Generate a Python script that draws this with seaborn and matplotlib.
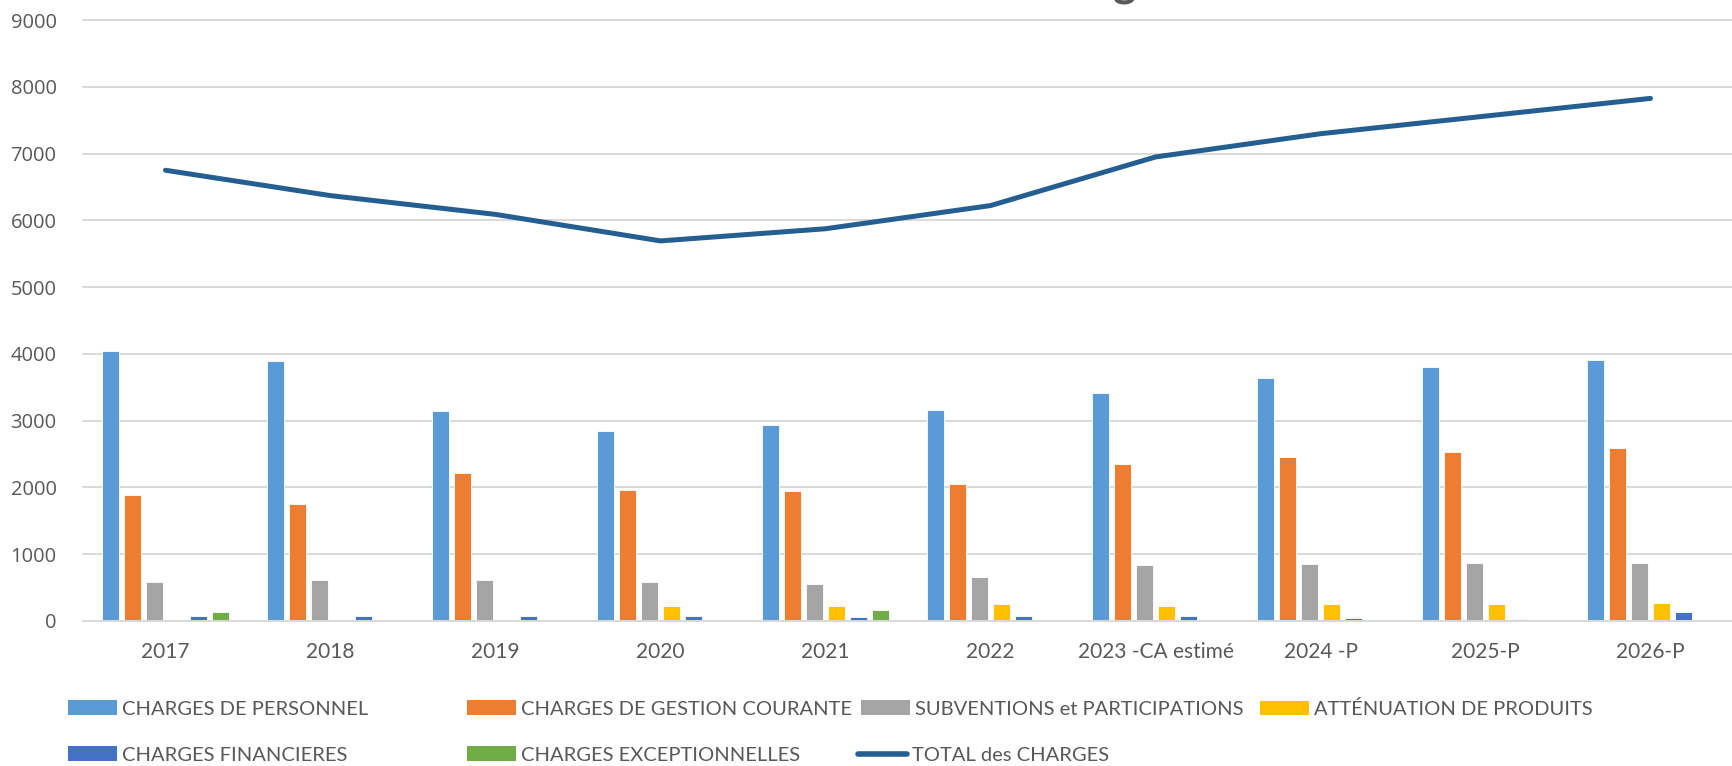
import numpy as np
import pandas as pd
import seaborn as sns
import matplotlib.pyplot as plt
from matplotlib.patches import Patch
from matplotlib.lines import Line2D

# valeurs (milliers d'euros)
annees = ["2017", "2018", "2019", "2020", "2021", "2022",
          "2023 -CA estimé", "2024 -P", "2025-P", "2026-P"]
personnel = [4040, 3895, 3150, 2850, 2935, 3155, 3415, 3635, 3800, 3915]
gestion = [1885, 1755, 2210, 1965, 1940, 2045, 2345, 2460, 2530, 2585]
subventions = [585, 612, 612, 582, 550, 665, 836, 852, 862, 872]
attenuation = [0, 0, 5, 228, 230, 255, 218, 252, 252, 267]
financieres = [72, 78, 72, 74, 58, 74, 72, 42, 28, 142]
exceptionnelles = [132, 10, 0, 0, 165, 0, 10, 5, 5, 5]
total = [6750, 6370, 6089, 5692, 5874, 6221, 6949, 7297, 7561, 7826]

series = ["CHARGES DE PERSONNEL", "CHARGES DE GESTION COURANTE",
          "SUBVENTIONS et PARTICIPATIONS", "ATTÉNUATION DE PRODUITS",
          "CHARGES FINANCIERES", "CHARGES EXCEPTIONNELLES"]
couleurs = ["#5B9BD5", "#ED7D31", "#A5A5A5", "#FFC000", "#4472C4", "#70AD47"]
valeurs = [personnel, gestion, subventions, attenuation, financieres, exceptionnelles]

rows = []
for nom, vals in zip(series, valeurs):
    for a, v in zip(annees, vals):
        rows.append({"annee": a, "serie": nom, "valeur": v})
df = pd.DataFrame(rows)

sns.set_theme(style="white")
plt.rcParams["font.family"] = ["Lato", "DejaVu Sans"]

fig = plt.figure(figsize=(17.33, 7.66), dpi=100)
ax = fig.add_axes([83 / 1733, 1 - 621 / 766, 1 - 83 / 1733, (621 - 20) / 766])

sns.barplot(data=df, x="annee", y="valeur", hue="serie", order=annees,
            hue_order=series, palette=couleurs, width=0.8, gap=0.2,
            edgecolor="white", linewidth=0.6, saturation=1, ax=ax, legend=False)

sns.lineplot(x=np.arange(len(annees)), y=total, color="#255E91", linewidth=3.6,
             solid_capstyle="round", ax=ax)

ax.set_xlim(-0.5, len(annees) - 0.5)
ax.set_ylim(0, 9000)
ax.set_yticks(np.arange(0, 9001, 1000))
ax.set_xlabel("")
ax.set_ylabel("")
ax.yaxis.grid(True, color="#D9D9D9", linewidth=1.4, clip_on=False)
ax.set_axisbelow(True)
for s in ["top", "right", "left"]:
    ax.spines[s].set_visible(False)
ax.spines["bottom"].set_color("#D9D9D9")
ax.spines["bottom"].set_linewidth(1.4)
ax.tick_params(axis="x", length=0, pad=15, labelsize=15, labelcolor="#595959")
ax.tick_params(axis="y", length=0, pad=19, labelsize=14.5, labelcolor="#595959")
for t in ax.get_yticklabels():
    t.set_fontfamily(["Open Sans", "DejaVu Sans"])

# titre coupé en haut de l'image
fig.text(1125 / 1733, 1 + 3 / 766, "g", ha="center", va="baseline",
         fontsize=32, fontweight="bold", color="#595959")

# légende, placée entrée par entrée comme dans Excel
handles = [Patch(facecolor=c, edgecolor="none") for c in couleurs]
handles.append(Line2D([0], [0], color="#255E91", linewidth=4, solid_capstyle="round"))
labels = series + ["TOTAL des CHARGES"]
places = [(68, 709), (467, 709), (861, 709), (1260, 709),
          (68, 755), (467, 755), (858, 755)]
for h, lab, (px, py) in zip(handles, labels, places):
    fig.legend([h], [lab], loc="center left",
               bbox_to_anchor=(px / 1733, 1 - py / 766),
               frameon=False, borderpad=0, borderaxespad=0,
               fontsize=14.5, labelcolor="#595959",
               handlelength=2.45, handleheight=0.7, handletextpad=0.25)

fig.savefig("out.png", dpi=100)
